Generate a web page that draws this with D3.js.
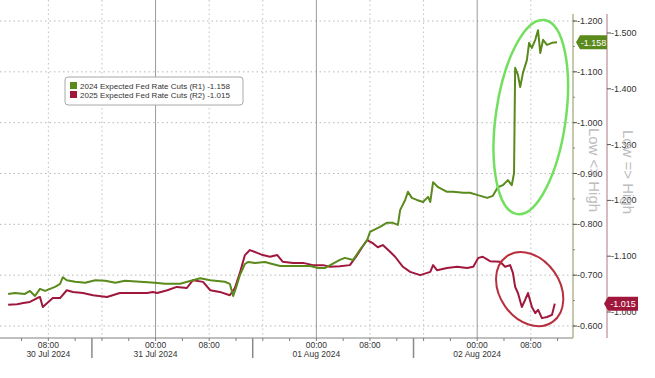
<!DOCTYPE html>
<html>
<head>
<meta charset="utf-8">
<script src="https://cdn.jsdelivr.net/npm/d3@7"></script>
<style>
  body { margin: 0; background: #fff; }
  svg { display: block; font-family: "Liberation Sans", Arial, sans-serif; }
</style>
</head>
<body>
<svg width="655" height="378"></svg>
<script>
// 2024 expected cuts (R1, inner axis)
const cuts2024 = [
  ["2024-07-30 02:00", -0.663], ["2024-07-30 03:00", -0.665], ["2024-07-30 04:30", -0.663],
  ["2024-07-30 05:15", -0.669], ["2024-07-30 06:00", -0.659], ["2024-07-30 06:45", -0.673],
  ["2024-07-30 07:30", -0.669], ["2024-07-30 08:15", -0.673], ["2024-07-30 09:00", -0.677],
  ["2024-07-30 09:45", -0.683], ["2024-07-30 10:10", -0.696], ["2024-07-30 10:45", -0.690],
  ["2024-07-30 12:00", -0.687], ["2024-07-30 13:30", -0.685], ["2024-07-30 15:00", -0.690],
  ["2024-07-30 16:30", -0.689], ["2024-07-30 18:00", -0.685], ["2024-07-30 19:25", -0.689],
  ["2024-07-30 21:40", -0.687], ["2024-07-30 23:55", -0.685], ["2024-07-31 01:25", -0.683],
  ["2024-07-31 03:40", -0.683], ["2024-07-31 06:40", -0.694], ["2024-07-31 08:10", -0.690],
  ["2024-07-31 10:20", -0.687], ["2024-07-31 11:05", -0.683], ["2024-07-31 11:35", -0.659],
  ["2024-07-31 12:00", -0.675], ["2024-07-31 12:35", -0.700], ["2024-07-31 13:20", -0.722],
  ["2024-07-31 13:50", -0.726], ["2024-07-31 14:50", -0.724], ["2024-07-31 16:20", -0.726],
  ["2024-07-31 17:25", -0.722], ["2024-07-31 18:35", -0.718], ["2024-07-31 20:05", -0.718],
  ["2024-07-31 21:35", -0.718], ["2024-07-31 23:05", -0.718], ["2024-08-01 00:15", -0.714],
  ["2024-08-01 01:15", -0.714], ["2024-08-01 03:30", -0.730], ["2024-08-01 04:15", -0.734],
  ["2024-08-01 05:30", -0.730], ["2024-08-01 06:30", -0.750], ["2024-08-01 07:35", -0.769],
  ["2024-08-01 08:00", -0.785], ["2024-08-01 09:30", -0.795], ["2024-08-01 10:30", -0.803],
  ["2024-08-01 11:25", -0.803], ["2024-08-01 12:10", -0.799], ["2024-08-01 12:30", -0.828],
  ["2024-08-01 13:15", -0.848], ["2024-08-01 13:40", -0.864], ["2024-08-01 14:15", -0.852],
  ["2024-08-01 15:00", -0.848], ["2024-08-01 15:55", -0.844], ["2024-08-01 16:40", -0.854],
  ["2024-08-01 17:00", -0.844], ["2024-08-01 17:25", -0.883], ["2024-08-01 18:10", -0.873],
  ["2024-08-01 19:30", -0.864], ["2024-08-01 20:25", -0.864], ["2024-08-01 21:55", -0.862],
  ["2024-08-01 22:55", -0.862], ["2024-08-01 23:59", -0.858], ["2024-08-02 01:30", -0.852],
  ["2024-08-02 02:20", -0.856], ["2024-08-02 03:05", -0.873], ["2024-08-02 03:50", -0.877],
  ["2024-08-02 04:35", -0.887], ["2024-08-02 05:10", -0.877], ["2024-08-02 05:30", -0.901],
  ["2024-08-02 05:40", -1.108], ["2024-08-02 06:05", -1.094], ["2024-08-02 06:25", -1.070],
  ["2024-08-02 06:50", -1.098], ["2024-08-02 07:25", -1.123], ["2024-08-02 07:45", -1.157],
  ["2024-08-02 08:10", -1.147], ["2024-08-02 08:40", -1.163], ["2024-08-02 09:05", -1.182],
  ["2024-08-02 09:25", -1.137], ["2024-08-02 09:50", -1.163], ["2024-08-02 10:25", -1.153],
  ["2024-08-02 11:10", -1.157], ["2024-08-02 11:55", -1.158]
];

// 2025 expected cuts (R2, outer axis)
const cuts2025 = [
  ["2024-07-30 02:00", -1.013], ["2024-07-30 03:20", -1.014], ["2024-07-30 04:15", -1.016],
  ["2024-07-30 05:15", -1.018], ["2024-07-30 06:20", -1.025], ["2024-07-30 06:45", -1.027],
  ["2024-07-30 07:10", -1.009], ["2024-07-30 07:50", -1.016], ["2024-07-30 08:40", -1.025],
  ["2024-07-30 09:45", -1.025], ["2024-07-30 10:45", -1.039], ["2024-07-30 11:40", -1.036],
  ["2024-07-30 13:10", -1.034], ["2024-07-30 14:40", -1.030], ["2024-07-30 16:45", -1.027],
  ["2024-07-30 18:40", -1.034], ["2024-07-30 20:40", -1.034], ["2024-07-30 22:45", -1.034],
  ["2024-07-30 23:35", -1.036], ["2024-07-31 00:15", -1.034], ["2024-07-31 01:45", -1.039],
  ["2024-07-31 03:10", -1.045], ["2024-07-31 04:40", -1.043], ["2024-07-31 05:35", -1.057],
  ["2024-07-31 07:05", -1.054], ["2024-07-31 08:10", -1.039], ["2024-07-31 09:35", -1.036],
  ["2024-07-31 11:05", -1.030], ["2024-07-31 11:50", -1.043], ["2024-07-31 12:35", -1.070],
  ["2024-07-31 13:20", -1.102], ["2024-07-31 14:05", -1.111], ["2024-07-31 15:10", -1.106],
  ["2024-07-31 16:00", -1.102], ["2024-07-31 17:05", -1.099], ["2024-07-31 18:10", -1.102],
  ["2024-07-31 19:00", -1.090], ["2024-07-31 20:30", -1.088], ["2024-07-31 22:00", -1.088],
  ["2024-07-31 23:30", -1.084], ["2024-08-01 01:00", -1.084], ["2024-08-01 02:00", -1.081],
  ["2024-08-01 03:30", -1.082], ["2024-08-01 05:00", -1.084], ["2024-08-01 06:05", -1.102],
  ["2024-08-01 06:50", -1.116], ["2024-08-01 07:35", -1.129], ["2024-08-01 08:20", -1.124],
  ["2024-08-01 09:10", -1.116], ["2024-08-01 09:55", -1.120], ["2024-08-01 11:00", -1.108],
  ["2024-08-01 11:45", -1.099], ["2024-08-01 12:55", -1.081], ["2024-08-01 14:00", -1.072],
  ["2024-08-01 15:30", -1.066], ["2024-08-01 17:00", -1.072], ["2024-08-01 17:25", -1.084],
  ["2024-08-01 18:00", -1.075], ["2024-08-01 19:30", -1.079], ["2024-08-01 21:00", -1.081],
  ["2024-08-01 22:30", -1.079], ["2024-08-01 23:25", -1.081], ["2024-08-02 00:10", -1.097],
  ["2024-08-02 00:50", -1.099], ["2024-08-02 01:55", -1.091], ["2024-08-02 03:25", -1.090],
  ["2024-08-02 04:10", -1.081], ["2024-08-02 04:55", -1.084], ["2024-08-02 05:20", -1.070],
  ["2024-08-02 05:40", -1.045], ["2024-08-02 06:05", -1.034], ["2024-08-02 06:40", -1.009],
  ["2024-08-02 07:10", -1.022], ["2024-08-02 07:35", -1.034], ["2024-08-02 08:10", -1.009],
  ["2024-08-02 08:40", -0.998], ["2024-08-02 09:05", -1.004], ["2024-08-02 09:40", -0.989],
  ["2024-08-02 10:25", -0.991], ["2024-08-02 11:10", -0.995], ["2024-08-02 11:35", -1.015]
];

const seriesNames = ["2024 Expected Fed Rate Cuts (R1)", "2025 Expected Fed Rate Cuts (R2)"];
const lastValues = [-1.158, -1.015];
const r1Ticks = [-1.2, -1.1, -1.0, -0.9, -0.8, -0.7, -0.6];
const r2Ticks = [-1.5, -1.4, -1.3, -1.2, -1.1, -1.0];
const xLabelTimes = ["2024-07-30 08:00", "2024-07-31 00:00", "2024-07-31 08:00",
  "2024-08-01 00:00", "2024-08-01 08:00", "2024-08-02 00:00", "2024-08-02 08:00"];
const separatorTimes = ["2024-07-30 14:30", "2024-07-31 14:30", "2024-08-01 14:30"];

const green = "#5a8a1c", red = "#a0173c";

const parse = d3.timeParse("%Y-%m-%d %H:%M");
const svg = d3.select("svg");

const plotL = 0, plotR = 573, plotB = 338;

const x = d3.scaleTime()
    .domain([parse("2024-07-30 00:47"), parse("2024-08-02 14:18")])
    .range([plotL, plotR]);
const yL = d3.scaleLinear().domain([-0.6, -1.2]).range([326, 21]);
const yR = d3.scaleLinear().domain([-1.0, -1.5]).range([312, 33]);

const fmt = (v) => v.toFixed(3);

// grid
const grid = svg.append("g");
grid.selectAll("line.h").data(r1Ticks).enter().append("line")
    .attr("x1", plotL).attr("x2", plotR)
    .attr("y1", d => yL(d)).attr("y2", d => yL(d))
    .attr("stroke", "#b8b8b8").attr("stroke-dasharray", "1.5,3");

const hours = d3.timeHour.every(8).range(x.domain()[0], x.domain()[1]);
grid.selectAll("line.v").data(hours.filter(d => d.getHours() !== 0)).enter().append("line")
    .attr("x1", d => x(d)).attr("x2", d => x(d))
    .attr("y1", 0).attr("y2", plotB)
    .attr("stroke", "#c0c0c0").attr("stroke-dasharray", "1.5,3");
grid.selectAll("line.d").data(hours.filter(d => d.getHours() === 0)).enter().append("line")
    .attr("x1", d => x(d)).attr("x2", d => x(d))
    .attr("y1", 0).attr("y2", plotB)
    .attr("stroke", "#9a9a9a").attr("stroke-width", 1);

// x axis
svg.append("line").attr("x1", plotL).attr("x2", plotR).attr("y1", plotB).attr("y2", plotB)
    .attr("stroke", "#808080");
const minor = d3.timeHour.every(4).range(x.domain()[0], x.domain()[1]);
svg.selectAll("line.mt").data(minor).enter().append("line")
    .attr("x1", d => x(d)).attr("x2", d => x(d))
    .attr("y1", plotB).attr("y2", plotB + 3)
    .attr("stroke", "#808080");
svg.selectAll("line.sep").data(separatorTimes.map(parse)).enter().append("line")
    .attr("x1", d => x(d)).attr("x2", d => x(d))
    .attr("y1", plotB).attr("y2", plotB + 20)
    .attr("stroke", "#8a8a8a").attr("stroke-width", 1.5);

const xl = svg.append("g").attr("font-size", 8.5).attr("fill", "#333").attr("text-anchor", "middle");
xLabelTimes.map(parse).forEach((t, i) => {
  xl.append("text").attr("x", x(t)).attr("y", plotB + 10).text(d3.timeFormat("%H:%M")(t));
  if (i === 0 || t.getHours() === 0) {
    xl.append("text").attr("x", x(t)).attr("y", plotB + 19).text(d3.timeFormat("%d %b %Y")(t));
  }
});

// lines
const lineL = d3.line().x(d => x(parse(d[0]))).y(d => yL(d[1]));
const lineR = d3.line().x(d => x(parse(d[0]))).y(d => yR(d[1]));
svg.append("path").datum(cuts2025).attr("d", lineR)
    .attr("fill", "none").attr("stroke", red).attr("stroke-width", 2).attr("stroke-linejoin", "round");
svg.append("path").datum(cuts2024).attr("d", lineL)
    .attr("fill", "none").attr("stroke", green).attr("stroke-width", 2).attr("stroke-linejoin", "round");

// highlight ellipses
const gx = x(parse("2024-08-02 08:00")), gy = yL(-1.011);
svg.append("ellipse").attr("cx", 0).attr("cy", 0).attr("rx", 35).attr("ry", 98)
    .attr("transform", `translate(${gx},${gy}) rotate(8)`)
    .attr("fill", "none").attr("stroke", "#72e05e").attr("stroke-width", 2.5);
const rx = x(parse("2024-08-02 07:50")), ry = yR(-1.041);
svg.append("ellipse").attr("cx", 0).attr("cy", 0).attr("rx", 30).attr("ry", 40)
    .attr("transform", `translate(${rx},${ry}) rotate(-35)`)
    .attr("fill", "none").attr("stroke", "#b8303f").attr("stroke-width", 2);

// R1 axis
const ax1 = 573;
svg.append("line").attr("x1", ax1).attr("x2", ax1).attr("y1", 14).attr("y2", plotB)
    .attr("stroke", "#b4b48c").attr("stroke-width", 1.5);
svg.selectAll("line.r1m").data(d3.range(-1.2, -0.55, 0.05)).enter().append("line")
    .attr("x1", ax1).attr("x2", ax1 + 2).attr("y1", d => yL(d)).attr("y2", d => yL(d))
    .attr("stroke", "#888");
const r1 = svg.append("g").attr("font-size", 9).attr("fill", "#333");
r1Ticks.forEach(v => {
  r1.append("line").attr("x1", ax1).attr("x2", ax1 + 4).attr("y1", yL(v)).attr("y2", yL(v)).attr("stroke", "#555");
  r1.append("text").attr("x", ax1 + 4).attr("y", yL(v) + 3).text(fmt(v));
});

// R2 axis
const ax2 = 607;
svg.append("line").attr("x1", ax2).attr("x2", ax2).attr("y1", 14).attr("y2", plotB)
    .attr("stroke", "#c8a4ac").attr("stroke-width", 1.5);
const r2 = svg.append("g").attr("font-size", 9).attr("fill", "#333");
r2Ticks.forEach(v => {
  r2.append("line").attr("x1", ax2).attr("x2", ax2 + 4).attr("y1", yR(v)).attr("y2", yR(v)).attr("stroke", "#555");
  r2.append("text").attr("x", ax2 + 4).attr("y", yR(v) + 3).text(fmt(v));
});

// rotated axis notes
svg.append("text").attr("transform", "translate(589,170) rotate(90)")
    .attr("text-anchor", "middle").attr("font-size", 15).attr("fill", "#bdbdbd").text("Low <> High");
svg.append("text").attr("transform", "translate(623,172) rotate(90)")
    .attr("text-anchor", "middle").attr("font-size", 15).attr("fill", "#bdbdbd").text("Low => High");

// last value tags
function tag(xp, yp, w, color, label) {
  svg.append("path")
      .attr("d", `M${xp},${yp} L${xp + 4},${yp - 7} L${xp + w},${yp - 7} L${xp + w},${yp + 7} L${xp + 4},${yp + 7} Z`)
      .attr("fill", color);
  svg.append("text").attr("x", xp + 4 + (w - 4) / 2).attr("y", yp + 3.2)
      .attr("text-anchor", "middle").attr("font-size", 9).attr("fill", "#fff").text(fmt(label));
}
tag(ax1 + 3, yL(lastValues[0]), 31, green, lastValues[0]);
tag(ax2 - 3, yR(lastValues[1]), 34, red, lastValues[1]);

// legend
const lg = svg.append("g").attr("transform", "translate(65,77)");
lg.append("rect").attr("width", 178).attr("height", 28).attr("rx", 3)
    .attr("fill", "#fff").attr("stroke", "#a8a8a8");
[green, red].forEach((c, i) => {
  lg.append("rect").attr("x", 5).attr("y", 5 + i * 9).attr("width", 7).attr("height", 7).attr("fill", c);
  lg.append("text").attr("x", 15).attr("y", 11.5 + i * 9).attr("font-size", 8).attr("fill", "#333")
      .text(seriesNames[i] + " " + fmt(lastValues[i]));
});
</script>
</body>
</html>
